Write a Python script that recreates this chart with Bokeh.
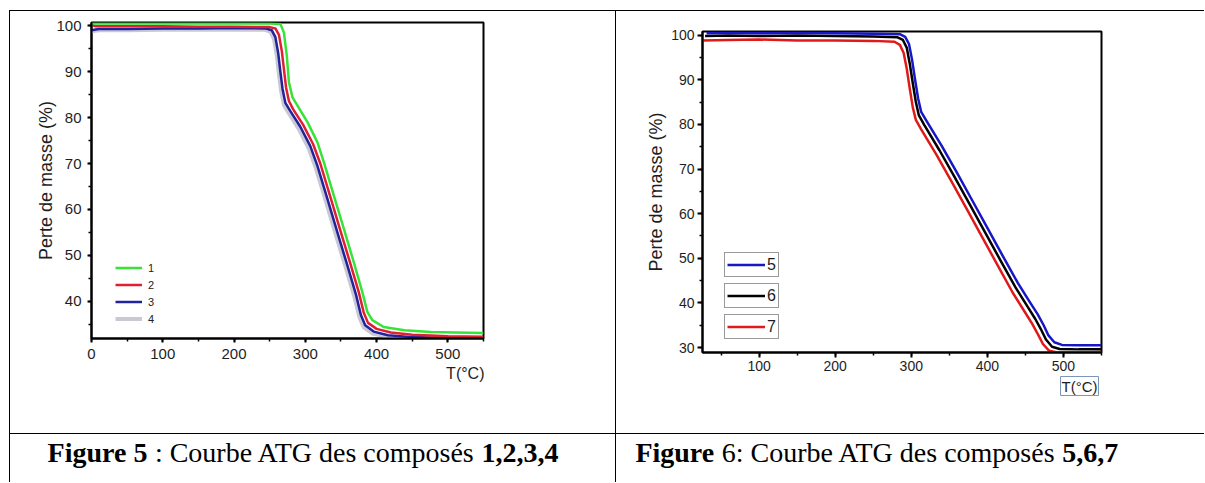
from bokeh.plotting import figure
from bokeh.models import (Range1d, SingleIntervalTicker, Legend, LegendItem, Title, Div, Spacer)
from bokeh.layouts import row, column
from bokeh.core.properties import value
from bokeh.embed import file_html
from bokeh.resources import INLINE

# ---------------- data : Figure 5 (composés 1,2,3,4) ----------------
t1 = [0, 50, 100, 150, 200, 250, 265, 270, 274, 277, 282, 289, 303, 317, 326, 340, 354, 368, 380, 387, 394, 410, 439, 476, 510, 550]
m1 = [100.5, 100.5, 100.5, 100.5, 100.5, 100.5, 100.4, 98.5, 93.5, 87.7, 84.4, 82.6, 79.0, 74.6, 70.3, 63.0, 55.8, 48.5, 42.0, 37.7, 35.9, 34.4, 33.7, 33.3, 33.2, 33.1]

t2 = [0, 5, 50, 100, 150, 200, 250, 258, 263, 267, 270, 273, 277, 283, 297, 311, 321, 335, 349, 363, 375, 382, 388, 400, 420, 450, 500, 550]
m2 = [100.2, 99.9, 99.9, 99.9, 99.8, 99.8, 99.7, 99.4, 98.0, 94.5, 90.5, 86.5, 83.6, 81.8, 78.4, 74.2, 70.0, 62.8, 55.5, 48.3, 42.0, 37.5, 35.3, 34.0, 33.2, 32.7, 32.4, 32.3]

t3 = [0, 10, 50, 100, 150, 200, 245, 253, 258, 262, 265, 268, 272, 279, 293, 307, 317, 331, 345, 359, 371, 378, 384, 396, 416, 450, 500, 550]
m3 = [99.0, 99.3, 99.3, 99.4, 99.4, 99.5, 99.4, 99.0, 97.5, 94.0, 90.0, 86.3, 83.2, 81.4, 78.0, 73.8, 69.5, 62.3, 55.0, 47.8, 41.5, 37.0, 34.8, 33.4, 32.6, 32.2, 32.0, 31.9]

t4 = [0, 10, 50, 100, 150, 200, 243, 251, 256, 260, 263, 266, 270, 277, 291, 305, 315, 329, 343, 357, 369, 376, 382, 394, 414, 450, 500, 550]
m4 = [98.8, 99.0, 99.0, 99.1, 99.1, 99.2, 99.1, 98.7, 97.1, 93.5, 89.5, 85.8, 82.7, 80.9, 77.5, 73.2, 68.9, 61.7, 54.4, 47.2, 40.9, 36.5, 34.3, 33.0, 32.3, 31.9, 31.6, 31.5]

labels_left = ["1", "2", "3", "4"]

# ---------------- data : Figure 6 (composés 5,6,7) ----------------
t5 = [31, 60, 100, 150, 200, 250, 285, 292, 297, 301, 305, 309, 313, 320, 340, 360, 380, 400, 420, 440, 455, 466, 474, 480, 488, 498, 520, 550]
m5 = [100.4, 100.5, 100.4, 100.5, 100.4, 100.3, 100.2, 99.6, 98.0, 94.5, 90.0, 85.8, 82.8, 80.8, 75.2, 69.2, 63.0, 56.8, 50.6, 44.5, 40.4, 37.5, 35.0, 32.8, 31.2, 30.6, 30.5, 30.5]

t6 = [29, 60, 100, 150, 200, 250, 282, 289, 294, 298, 302, 306, 310, 317, 337, 357, 377, 397, 417, 437, 452, 463, 471, 477, 485, 495, 520, 550]
m6 = [99.8, 99.9, 99.8, 99.9, 99.8, 99.7, 99.5, 98.9, 97.2, 93.6, 89.2, 85.0, 82.0, 79.9, 74.2, 68.2, 62.0, 55.8, 49.6, 43.5, 39.4, 36.4, 33.9, 31.8, 30.2, 29.7, 29.6, 29.6]

t7 = [25.6, 60, 100, 150, 200, 250, 278, 285, 290, 294, 298, 302, 306, 313, 333, 353, 373, 393, 413, 433, 448, 459, 467, 473, 481, 492, 520, 550]
m7 = [98.8, 98.9, 99.0, 98.8, 98.8, 98.7, 98.5, 97.8, 96.0, 92.5, 88.0, 83.8, 81.0, 78.9, 73.2, 67.2, 61.0, 54.8, 48.6, 42.4, 38.3, 35.3, 32.8, 30.8, 29.3, 28.9, 28.9, 29.0]

labels_right = ["5", "6", "7"]

x_label = "T(°C)"
y_label = "Perte de masse (%)"
cap_left = [("Figure 5", "bold"), (": Courbe ATG des composés", "normal"), ("1,2,3,4", "bold")]
cap_right = [("Figure", "bold"), ("6: Courbe ATG des composés", "normal"), ("5,6,7", "bold")]

SANS = "Liberation Sans"
SERIF = "Liberation Serif"


def make_fig(width, xr, yr, mbl, mbr, mbt, mbb):
    p = figure(width=width, height=422, output_backend="svg", toolbar_location=None, title=None,
               x_range=Range1d(*xr), y_range=Range1d(*yr),
               min_border_left=mbl, min_border_right=mbr, min_border_top=mbt, min_border_bottom=mbb)
    if "frame_align" in p.properties():
        p.frame_align = False
    return p


def style(p, tick_px, tick_out, standoff, ylab_standoff):
    p.xaxis.ticker = SingleIntervalTicker(interval=100, num_minor_ticks=2)
    p.yaxis.ticker = SingleIntervalTicker(interval=10, num_minor_ticks=2)
    for ax in (p.xaxis[0], p.yaxis[0]):
        ax.axis_line_width = 2
        ax.axis_line_color = "black"
        ax.major_tick_line_width = 2
        ax.minor_tick_line_width = 1.5
        ax.major_tick_out = tick_out
        ax.major_tick_in = 0
        ax.minor_tick_out = 3
        ax.minor_tick_in = 0
        ax.major_label_text_font = SANS
        ax.major_label_text_font_size = tick_px
        ax.major_label_text_color = "#1e1e1e"
        ax.major_label_standoff = standoff
    p.yaxis.axis_label = y_label
    p.yaxis.axis_label_text_font = SANS
    p.yaxis.axis_label_text_font_size = "18px"
    p.yaxis.axis_label_text_font_style = "normal"
    p.yaxis.axis_label_text_color = "#1e1e1e"
    p.yaxis.axis_label_standoff = ylab_standoff
    p.grid.visible = False
    p.outline_line_color = "black"
    p.outline_line_width = 2
    p.background_fill_color = "white"
    p.border_fill_color = "white"


# ---------------- left chart ----------------
pl = make_fig(605, (0, 550), (31.9, 100.7), 81, 132, 11, 95)
style(pl, "15px", 4, 6, -3)

r4 = pl.line(t4, m4, line_color="#c8c9d4", line_width=4, line_join="round")
r3 = pl.line(t3, m3, line_color="#22229c", line_width=2.5, line_join="round")
r2 = pl.line(t2, m2, line_color="#de2030", line_width=2.5, line_join="round")
r1 = pl.line(t1, m1, line_color="#36e336", line_width=2.5, line_join="round")

leg_l = Legend(items=[LegendItem(label=lab, renderers=[r]) for lab, r in zip(labels_left, [r1, r2, r3, r4])],
               location=(24, 11), glyph_width=27, glyph_height=17, label_height=17, label_width=8,
               spacing=0, padding=0, margin=0, label_standoff=6,
               label_text_font=SANS, label_text_font_size="11px", label_text_color="#222222",
               border_line_alpha=0, background_fill_alpha=0)
pl.add_layout(leg_l)

pl.add_layout(Title(text=x_label, align="right", offset=-1, standoff=2,
                    text_font=SANS, text_font_size="16px", text_font_style="normal",
                    text_color="#1e1e1e"), "below")

# ---------------- right chart ----------------
pr = make_fig(588, (25.6, 550), (28.9, 100.8), 86, 103, 20, 81)
style(pr, "14px", 5, 3, 2)

r7 = pr.line(t7, m7, line_color="#e01a1a", line_width=2.5, line_join="round")
r6 = pr.line(t6, m6, line_color="#000000", line_width=2.5, line_join="round")
r5 = pr.line(t5, m5, line_color="#1717c8", line_width=2.5, line_join="round")

for lab, r, yb in zip(labels_right, [r5, r6, r7], [75, 44, 13]):
    lg = Legend(items=[LegendItem(label=lab, renderers=[r])], location=(22, yb),
                glyph_width=38, glyph_height=19, label_height=19, label_width=9,
                label_standoff=2, padding=2, margin=0, spacing=0,
                label_text_font=SANS, label_text_font_size="16px", label_text_color="#1e1e1e",
                border_line_color="#333333", border_line_width=1,
                background_fill_color="white", background_fill_alpha=1)
    pr.add_layout(lg)

pr.add_layout(Title(text=x_label, align="right", offset=3, standoff=2,
                    text_font=SANS, text_font_size="15px", text_font_style="normal",
                    text_color="#1e1e1e", border_line_color="#7a96b8", border_line_width=1,
                    padding=1), "below")


# ---------------- captions ----------------
BOLD_W = {"F": 611, "i": 278, "g": 500, "u": 556, "r": 444, "e": 444, " ": 250, ",": 250}
REG_W = {" ": 250, ":": 278, "C": 667, "o": 500, "u": 500, "r": 333, "b": 500, "e": 444,
         "A": 722, "T": 611, "G": 722, "d": 500, "s": 389, "c": 444, "m": 778, "p": 500, "é": 444}


def text_w(s, style_):
    table = BOLD_W if style_ == "bold" else REG_W
    return sum(table.get(c, 500) for c in s) / 1000.0


def caption(width, pieces, center, fs):
    p = figure(width=width, height=48, output_backend="svg", toolbar_location=None, title=None,
               x_range=Range1d(0, width), y_range=Range1d(48, 0),
               x_axis_type=None, y_axis_type=None, min_border=0)
    p.grid.visible = False
    p.outline_line_color = None
    p.background_fill_color = "white"
    p.border_fill_color = "white"
    ws = [text_w(t, s) * fs for t, s in pieces]
    ws[1] -= 4  # rendered regular run is slightly narrower than its nominal metrics
    gap = 0.25 * fs
    total = sum(ws) + gap * (len(ws) - 1)
    x = center - total / 2.0
    for (txt, st), w in zip(pieces, ws):
        p.text(x=[x], y=[18], text=[txt], text_font=value(SERIF), text_font_size=f"{fs}px",
               text_font_style=st, text_align="left", text_baseline="alphabetic", text_color="black")
        x += w + gap
    return p


cl = caption(605, cap_left, 302.5 - 10, 28)
cr = caption(588, cap_right, 876.3 - 616, 28)


def vline(h):
    return Div(width=1, height=h, margin=0, styles={"background-color": "black"})


def hline(w):
    return Div(width=w, height=1, margin=0, styles={"background-color": "black"})


layout = column(
    Spacer(width=1204, height=10, margin=0),
    row(Spacer(width=9, height=1, margin=0), hline(1195), spacing=0),
    row(Spacer(width=9, height=422, margin=0), vline(422), pl, vline(422), pr, spacing=0),
    row(Spacer(width=9, height=1, margin=0), hline(1195), spacing=0),
    row(Spacer(width=9, height=48, margin=0), vline(48), cl, vline(48), cr, spacing=0),
    spacing=0,
)

open("out.html", "w").write(file_html(layout, INLINE))
